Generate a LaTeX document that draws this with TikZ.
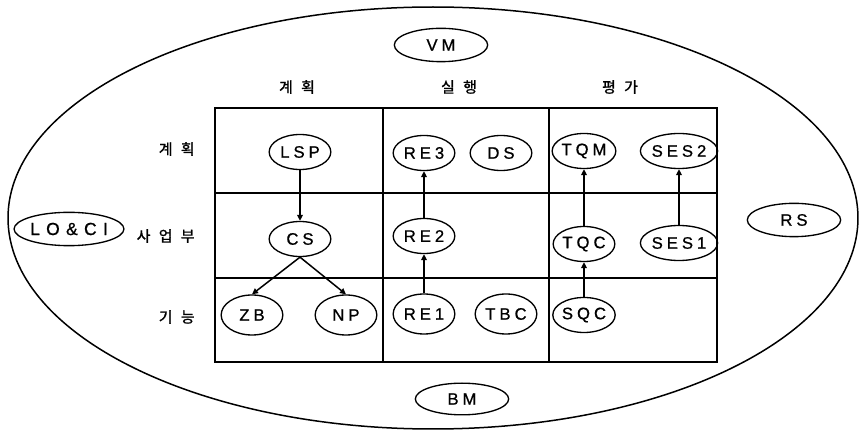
\documentclass[tikz,border=0pt]{standalone}
\usepackage{fontspec}
\setmainfont{Liberation Sans}
\newfontfamily\capsfont[LetterSpace=24,FakeBold=0.8]{Liberation Sans}
\newfontfamily\widecaps[LetterSpace=36,FakeBold=0.8]{Liberation Sans}
\newfontfamily\kofont[LetterSpace=55,FakeBold=1.2]{Noto Sans CJK KR}
\usetikzlibrary{shapes.geometric,arrows.meta,positioning}

\begin{document}
\begin{tikzpicture}[x=0.6pt,y=-0.6pt,
	blob/.style={ellipse, draw, line width=0.8pt, minimum width=37pt, minimum height=21pt, inner sep=0pt, font=\capsfont\fontsize{10}{12}\selectfont},
	outer/.style={blob, minimum width=56pt, minimum height=20pt},
	lbl/.style={inner sep=0pt, font=\kofont\fontsize{9}{11}\selectfont},
	flow/.style={-{Triangle[length=3.6pt,width=3.4pt]}, line width=0.9pt}]
	\useasboundingbox (0,0) rectangle (861,433);

	\draw[line width=0.9pt] (433,218) ellipse [x radius=255pt, y radius=126.6pt];

	\node[outer] (VM) at (441,45) {VM};
	\node[outer, font=\widecaps\fontsize{10.5}{12}\selectfont] (LOCI) at (69,229) {LO\&CI};
	\node[outer] (RS) at (794,220) {RS};
	\node[outer, minimum height=19pt] (BM) at (462,399) {BM};

	\draw[line width=1.3pt] (215,108) rectangle (717,362);
	\draw[line width=0.7pt] (383,108) -- (383,362);
	\draw[line width=0.7pt] (549,108) -- (549,362);
	\draw[line width=0.7pt] (215,193) -- (717,193);
	\draw[line width=0.7pt] (215,278) -- (717,278);

	\node[lbl] (plan) at (297,87) {계획};
	\node[lbl] (exec) at (459,87) {실행};
	\node[lbl] (eval) at (620,87) {평가};

	\node[lbl, anchor=east] (rplan) at (195,149) {계획};
	\node[lbl, anchor=east] (rbiz) at (195,236) {사업부};
	\node[lbl, anchor=east] (rfunc) at (195,317) {기능};

	\node[blob] (LSP) at (300,152) {LSP};
	\node[blob] (CS) at (300,239) {CS};
	\node[blob, minimum height=24pt] (ZB) at (252,315) {ZB};
	\node[blob, minimum height=24pt] (NP) at (346,315) {NP};

	\node[blob] (RE3) at (424,153) {RE3};
	\node[blob] (DS) at (501,153) {DS};
	\node[blob] (RE2) at (424,236) {RE2};
	\node[blob, minimum height=24pt] (RE1) at (424,314) {RE1};
	\node[blob, minimum height=24pt] (TBC) at (506,314) {TBC};

	\node[blob] (TQM) at (584,151) {TQM};
	\node[blob] (SES2) at (679,151) {SES2};
	\node[blob] (TQC) at (584,244) {TQC};
	\node[blob] (SES1) at (679,243) {SES1};
	\node[blob] (SQC) at (584,315) {SQC};

	\draw[flow] (LSP) -- (CS);
	\draw[flow] (CS.south) -- (ZB.north);
	\draw[flow] (CS.south) -- (NP.north);
	\draw[flow] (RE1) -- (RE2);
	\draw[flow] (RE2) -- (RE3);
	\draw[flow] (SQC) -- (TQC);
	\draw[flow] (TQC) -- (TQM);
	\draw[flow] (SES1) -- (SES2);
\end{tikzpicture}
\end{document}
